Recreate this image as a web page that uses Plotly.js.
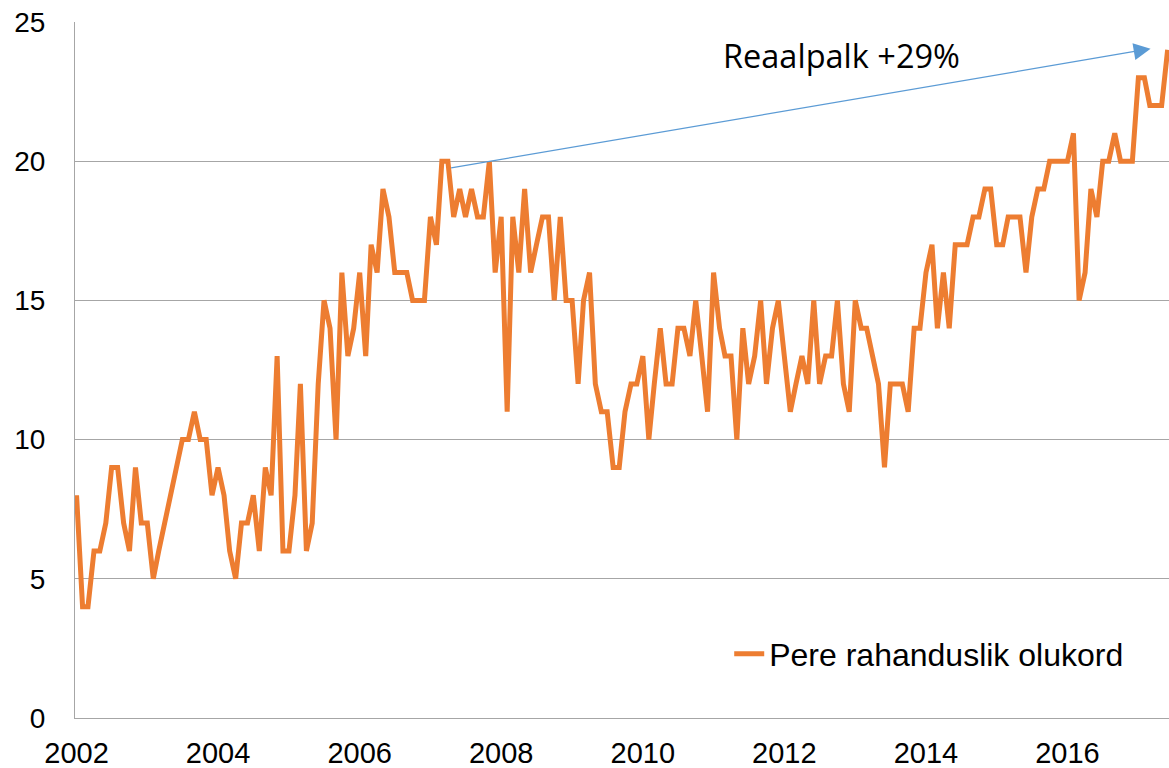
<!DOCTYPE html>
<html>
<head>
<meta charset="utf-8">
<script src="https://cdn.plot.ly/plotly-3.0.1.min.js"></script>
<style>
  html, body { margin: 0; padding: 0; background: #ffffff; }
  #chart { width: 1169px; height: 768px; }
</style>
</head>
<body>
<div id="chart"></div>
<script>
// Monthly values, Jan..Dec per year (2017: Jan..Jun)
const v2002 = [8, 4, 4, 6, 6, 7, 9, 9, 7, 6, 9, 7];
const v2003 = [7, 5, 6, 7, 8, 9, 10, 10, 11, 10, 10, 8];
const v2004 = [9, 8, 6, 5, 7, 7, 8, 6, 9, 8, 13, 6];
const v2005 = [6, 8, 12, 6, 7, 12, 15, 14, 10, 16, 13, 14];
const v2006 = [16, 13, 17, 16, 19, 18, 16, 16, 16, 15, 15, 15];
const v2007 = [18, 17, 20, 20, 18, 19, 18, 19, 18, 18, 20, 16];
const v2008 = [18, 11, 18, 16, 19, 16, 17, 18, 18, 15, 18, 15];
const v2009 = [15, 12, 15, 16, 12, 11, 11, 9, 9, 11, 12, 12];
const v2010 = [13, 10, 12, 14, 12, 12, 14, 14, 13, 15, 13, 11];
const v2011 = [16, 14, 13, 13, 10, 14, 12, 13, 15, 12, 14, 15];
const v2012 = [13, 11, 12, 13, 12, 15, 12, 13, 13, 15, 12, 11];
const v2013 = [15, 14, 14, 13, 12, 9, 12, 12, 12, 11, 14, 14];
const v2014 = [16, 17, 14, 16, 14, 17, 17, 17, 18, 18, 19, 19];
const v2015 = [17, 17, 18, 18, 18, 16, 18, 19, 19, 20, 20, 20];
const v2016 = [20, 21, 15, 16, 19, 18, 20, 20, 21, 20, 20, 20];
const v2017 = [23, 23, 22, 22, 22, 24];

const seriesName = "Pere rahanduslik olukord";
const annotationText = "Reaalpalk +29%";
const tickYears = ["2002", "2004", "2006", "2008", "2010", "2012", "2014", "2016"];
const yTicks = [0, 5, 10, 15, 20, 25];

const yearly = [v2002, v2003, v2004, v2005, v2006, v2007, v2008, v2009,
                v2010, v2011, v2012, v2013, v2014, v2015, v2016, v2017];
const startYear = 2002;

const xs = [], ys = [];
yearly.forEach((arr, yi) => {
  arr.forEach((v, mi) => {
    const mm = String(mi + 1).padStart(2, "0");
    xs.push((startYear + yi) + "-" + mm + "-01");
    ys.push(v);
  });
});

const trace = {
  type: "scatter",
  mode: "lines",
  x: xs,
  y: ys,
  name: seriesName,
  line: { color: "#ED7D31", width: 5, shape: "linear" },
  hoverinfo: "x+y"
};

const layout = {
  width: 1169,
  height: 768,
  margin: { l: 75, r: 0, t: 22, b: 50, pad: 0 },
  paper_bgcolor: "#ffffff",
  plot_bgcolor: "#ffffff",
  font: { family: "Liberation Sans, Arial, sans-serif", color: "#000000", size: 28 },
  showlegend: true,
  legend: {
    x: 0.598, y: 0.092, xanchor: "left", yanchor: "middle",
    bgcolor: "rgba(0,0,0,0)",
    font: { family: "Liberation Sans, Arial, sans-serif", size: 32, color: "#000000" }
  },
  xaxis: {
    type: "date",
    range: ["2001-12-24", "2017-06-08"],
    tickvals: tickYears.map(y => y + "-01-01"),
    ticktext: tickYears,
    showgrid: false,
    zeroline: false,
    showline: true,
    linecolor: "#A6A6A6",
    linewidth: 1,
    ticks: "",
    ticklabelstandoff: 9,
    tickfont: { size: 29, family: "Liberation Sans, Arial, sans-serif" }
  },
  yaxis: {
    range: [0, 25],
    tickvals: yTicks,
    ticktext: yTicks.map(String),
    showgrid: true,
    gridcolor: "#A6A6A6",
    gridwidth: 1,
    zeroline: false,
    showline: true,
    linecolor: "#A6A6A6",
    linewidth: 1,
    ticks: "",
    ticklabelstandoff: 23,
    tickfont: { size: 28, family: "Liberation Sans, Arial, sans-serif" }
  },
  annotations: [
    {
      x: "2017-03-05", y: 24.04, xref: "x", yref: "y",
      ax: "2007-04-10", ay: 19.75, axref: "x", ayref: "y",
      showarrow: true, arrowhead: 2, arrowsize: 2.6, arrowwidth: 1.3,
      arrowcolor: "#5B9BD5", text: ""
    },
    {
      x: "2012-10-20", y: 23.8, xref: "x", yref: "y",
      text: annotationText, showarrow: false,
      xanchor: "center", yanchor: "middle",
      font: { family: "Open Sans, sans-serif", size: 32.5, color: "#000000" }
    }
  ]
};

Plotly.newPlot("chart", [trace], layout, { displayModeBar: false, staticPlot: true });
</script>
</body>
</html>
